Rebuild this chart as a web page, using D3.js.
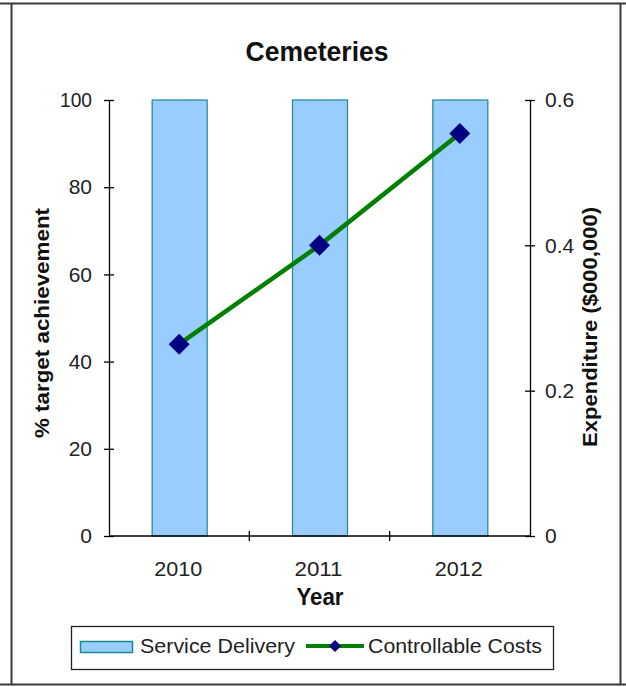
<!DOCTYPE html>
<html>
<head>
<meta charset="utf-8">
<script src="https://cdn.jsdelivr.net/npm/d3@7/dist/d3.min.js"></script>
<style>
  html, body { margin: 0; padding: 0; background: #fff; }
  svg { display: block; font-family: "Liberation Sans", Arial, sans-serif; }
</style>
</head>
<body>
<svg id="chart" width="626" height="687"></svg>
<script>
// Cemeteries: service delivery (% of target) vs controllable costs
const years = ["2010", "2011", "2012"];
const serviceDelivery = [100, 100, 100];
const controllableCosts = [0.264, 0.40, 0.554];
const leftTicks = [0, 20, 40, 60, 80, 100];
const rightTicks = [0, 0.2, 0.4, 0.6];

const svg = d3.select("#chart");
const m = { left: 109, right: 530, top: 100, bottom: 536 };
const FONT = "'Liberation Sans', Arial, sans-serif";

// page frame
const frame = svg.append("g").attr("stroke", "#3a3a3a").attr("stroke-width", 2);
frame.append("line").attr("x1", 0).attr("x2", 626).attr("y1", 3.5).attr("y2", 3.5);
frame.append("line").attr("x1", 11.5).attr("x2", 11.5).attr("y1", 3).attr("y2", 685);
frame.append("line").attr("x1", 620.5).attr("x2", 620.5).attr("y1", 3).attr("y2", 685);
frame.append("line").attr("x1", 0).attr("x2", 626).attr("y1", 684.5).attr("y2", 684.5);

const x = d3.scaleBand().domain(years).range([m.left, m.right]);
const yL = d3.scaleLinear().domain([0, 100]).range([m.bottom, m.top]);
const yR = d3.scaleLinear().domain([0, 0.6]).range([m.bottom, m.top]);
const barW = 55;
const cx = d => x(d) + x.bandwidth() / 2;

// bars
svg.append("g").selectAll("rect").data(years).join("rect")
  .attr("x", d => cx(d) - barW / 2 + 0.5)
  .attr("y", (d, i) => yL(serviceDelivery[i]))
  .attr("width", barW)
  .attr("height", (d, i) => yL(0) - yL(serviceDelivery[i]))
  .attr("fill", "#99ccff")
  .attr("stroke", "#1a8a8a")
  .attr("stroke-width", 1.2);

// axes
const axisStyle = g => {
  g.selectAll("path, line").attr("stroke", "#000").attr("stroke-width", 1.3);
  g.selectAll(".tick line").attr("x1", -5).attr("x2", 5);
  g.selectAll("text").attr("font-size", 21).attr("fill", "#222").attr("font-family", FONT);
};

svg.append("g").attr("transform", `translate(${m.left},0)`)
  .call(d3.axisLeft(yL).tickValues(leftTicks).tickSize(5).tickSizeOuter(0).tickPadding(12))
  .call(axisStyle)
  .call(g => g.selectAll("text").attr("textLength", d => d === 100 ? 32 : null)
    .attr("lengthAdjust", "spacingAndGlyphs"));

svg.append("g").attr("transform", `translate(${m.right},0)`)
  .call(d3.axisRight(yR).tickValues(rightTicks).tickSize(5).tickSizeOuter(0).tickPadding(10)
    .tickFormat(d => d === 0 ? "0" : d3.format(".1f")(d)))
  .call(axisStyle);

// x axis baseline with category boundary ticks
const xg = svg.append("g");
xg.append("line").attr("x1", m.left).attr("x2", m.right).attr("y1", m.bottom).attr("y2", m.bottom)
  .attr("stroke", "#000").attr("stroke-width", 1.3);
xg.selectAll("line.b").data(years.slice(1)).join("line").attr("class", "b")
  .attr("x1", d => x(d)).attr("x2", d => x(d))
  .attr("y1", m.bottom - 5).attr("y2", m.bottom + 5)
  .attr("stroke", "#000").attr("stroke-width", 1.3);
xg.selectAll("text").data(years).join("text")
  .attr("x", d => cx(d) - 1)
  .attr("y", 576)
  .attr("text-anchor", "middle")
  .attr("font-size", 21).attr("fill", "#222")
  .attr("textLength", 48).attr("lengthAdjust", "spacingAndGlyphs")
  .text(d => d);

// line series
const line = d3.line().x((d, i) => cx(years[i])).y(d => yR(d));
svg.append("path").datum(controllableCosts)
  .attr("d", line).attr("fill", "none")
  .attr("stroke", "#008000").attr("stroke-width", 4.5);

svg.append("g").selectAll("path").data(controllableCosts).join("path")
  .attr("d", d3.symbol().type(d3.symbolSquare).size(220))
  .attr("transform", (d, i) => `translate(${cx(years[i])},${yR(d)}) rotate(45)`)
  .attr("fill", "#000080");

// titles
const label = (txt, size, len) => svg.append("text")
  .attr("text-anchor", "middle").attr("font-size", size).attr("font-weight", "bold")
  .attr("fill", "#111").attr("textLength", len).attr("lengthAdjust", "spacingAndGlyphs")
  .text(txt);

label("Cemeteries", 28, 143).attr("x", 317).attr("y", 60.5);
label("Year", 24, 47).attr("x", 320).attr("y", 605);
label("% target achievement", 21, 230).attr("transform", "translate(49,323) rotate(-90)");
label("Expenditure ($000,000)", 21, 240).attr("transform", "translate(597,327) rotate(-90)");

// legend
const lg = svg.append("g");
lg.append("rect").attr("x", 71.5).attr("y", 626.5).attr("width", 482).attr("height", 43)
  .attr("fill", "#fff").attr("stroke", "#222").attr("stroke-width", 1.3);
lg.append("rect").attr("x", 80.5).attr("y", 641.5).attr("width", 52).attr("height", 11)
  .attr("fill", "#99ccff").attr("stroke", "#1a8a8a").attr("stroke-width", 1.5);
lg.append("text").attr("x", 140).attr("y", 653).attr("font-size", 21).attr("fill", "#222")
  .attr("textLength", 155).attr("lengthAdjust", "spacingAndGlyphs")
  .text("Service Delivery");
lg.append("line").attr("x1", 306).attr("x2", 364).attr("y1", 646).attr("y2", 646)
  .attr("stroke", "#008000").attr("stroke-width", 4);
lg.append("path").attr("d", d3.symbol().type(d3.symbolSquare).size(75))
  .attr("transform", "translate(335,646) rotate(45)").attr("fill", "#000080");
lg.append("text").attr("x", 368).attr("y", 653).attr("font-size", 21).attr("fill", "#222")
  .attr("textLength", 174).attr("lengthAdjust", "spacingAndGlyphs")
  .text("Controllable Costs");
</script>
</body>
</html>
